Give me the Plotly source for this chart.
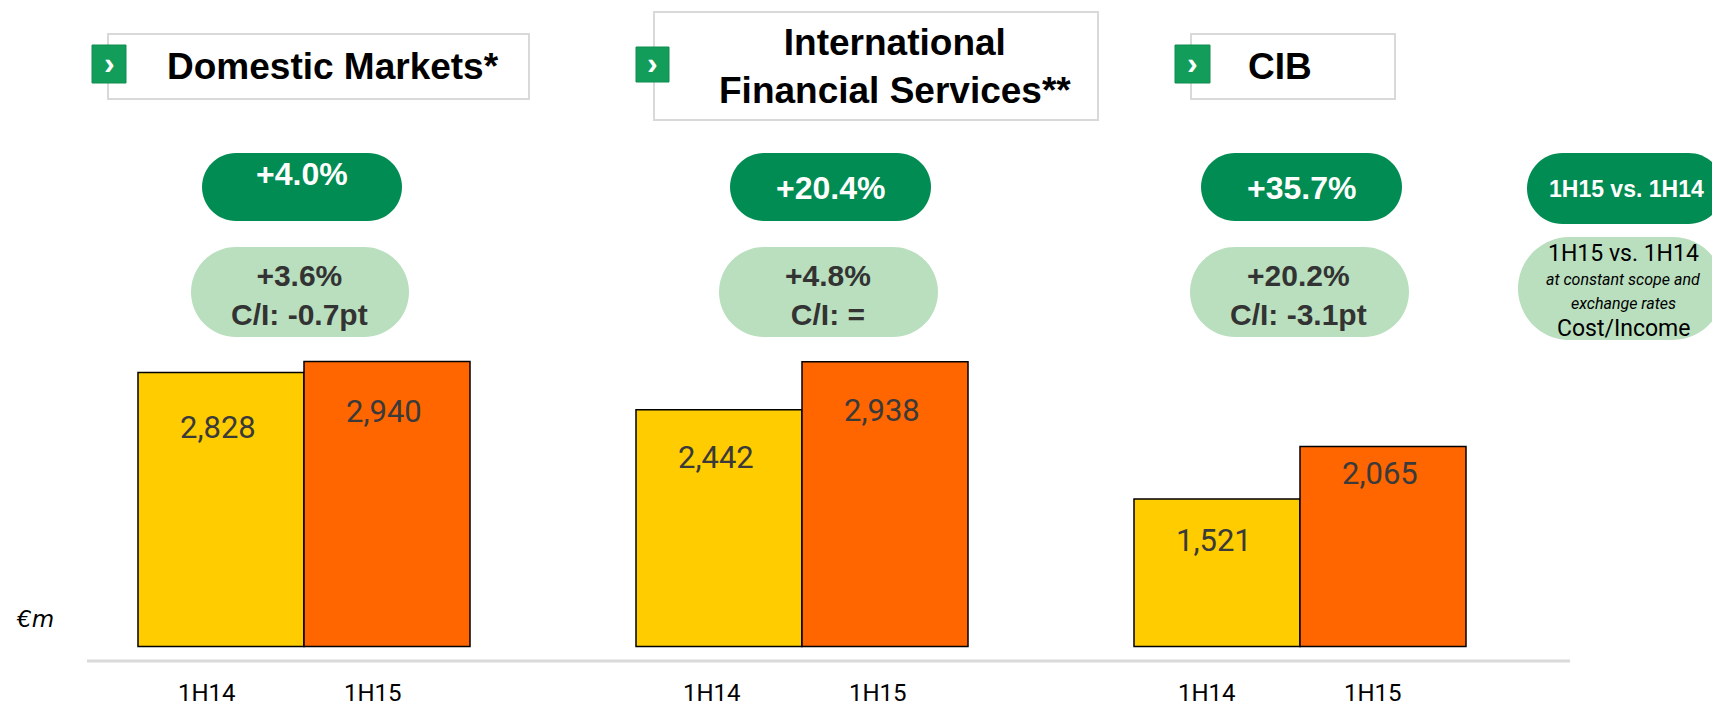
import plotly.graph_objects as go

# revenues by operating division, in EUR m
segments = ["Domestic Markets*", "International<br>Financial Services**", "CIB"]
periods = ["1H14", "1H15"]
rev_1h14 = [2828, 2442, 1521]
rev_1h15 = [2940, 2938, 2065]
growth = ["+4.0%", "+20.4%", "+35.7%"]
growth_const = ["+3.6%", "+4.8%", "+20.2%"]
cost_income = ["C/I: -0.7pt", "C/I: =", "C/I: -3.1pt"]

# the page body has an 8px margin, so the figure is a bit smaller than the window
OFF = 8
W, H = 1720 - OFF, 707 - OFF
YELLOW = "#FFCC00"
ORANGE = "#FF6600"
DARK_GREEN = "#008C52"
LIGHT_GREEN = "#B9DFBE"
NARROW = "Roboto, sans-serif"
BOLD = "Liberation Sans, Arial, sans-serif"


def px(x):
    return (x - OFF) / W


def py(y):
    return 1 - (y - OFF) / H


def pill(x0, y0, x1, y1, color):
    # stadium shape built from cubic curves (paper coords)
    r = (y1 - y0) / 2
    cy = (y0 + y1) / 2
    k = 0.5523 * r
    pts = [
        ("M", [(x0 + r, y0)]),
        ("L", [(x1 - r, y0)]),
        ("C", [(x1 - r + k, y0), (x1, cy - k), (x1, cy)]),
        ("C", [(x1, cy + k), (x1 - r + k, y1), (x1 - r, y1)]),
        ("L", [(x0 + r, y1)]),
        ("C", [(x0 + r - k, y1), (x0, cy + k), (x0, cy)]),
        ("C", [(x0, cy - k), (x0 + r - k, y0), (x0 + r, y0)]),
    ]
    path = ""
    for cmd, pp in pts:
        path += cmd + " " + " ".join(f"{px(a):.5f},{py(b):.5f}" for a, b in pp) + " "
    path += "Z"
    return dict(type="path", xref="paper", yref="paper", path=path,
                fillcolor=color, line=dict(width=0), layer="below")


x_1h14 = [3 * i for i in range(len(segments))]
x_1h15 = [3 * i + 1 for i in range(len(segments))]

fig = go.Figure()
fig.add_trace(go.Bar(x=x_1h14, y=rev_1h14, width=1, marker=dict(color=YELLOW, line=dict(color="black", width=1.5)),
                     name=periods[0], hoverinfo="y"))
fig.add_trace(go.Bar(x=x_1h15, y=rev_1h15, width=1, marker=dict(color=ORANGE, line=dict(color="black", width=1.5)),
                     name=periods[1], hoverinfo="y"))

shapes = []
annotations = []

# header boxes
boxes = [(108, 34, 529, 99), (654, 12, 1098, 120), (1191, 34, 1395, 99)]
squares = [(92, 45, 126, 83), (636, 47, 669, 82), (1175, 45, 1210, 83)]
title_x = [333, 895, 1280]
for i, seg in enumerate(segments):
    bx0, by0, bx1, by1 = boxes[i]
    shapes.append(dict(type="rect", xref="paper", yref="paper", x0=px(bx0), x1=px(bx1), y0=py(by1), y1=py(by0),
                       line=dict(color="#D9D9D9", width=2), fillcolor="white"))
    sx0, sy0, sx1, sy1 = squares[i]
    shapes.append(dict(type="rect", xref="paper", yref="paper", x0=px(sx0), x1=px(sx1), y0=py(sy1), y1=py(sy0),
                       line=dict(color="#0E8C50", width=1), fillcolor="#129E5A"))
    annotations.append(dict(xref="paper", yref="paper", x=px((sx0 + sx1) / 2), y=py((sy0 + sy1) / 2 - 1),
                            text="<b>›</b>", showarrow=False, font=dict(family=BOLD, size=32, color="white"),
                            xanchor="center", yanchor="middle"))
    annotations.append(dict(xref="paper", yref="paper", x=px(title_x[i]), y=py((by0 + by1) / 2),
                            text=f"<b>{seg}</b>", showarrow=False, font=dict(family=BOLD, size=37, color="black"),
                            xanchor="center", yanchor="middle"))

# growth pills
dark_x = [(202, 402), (730, 931), (1201, 1402)]
light_x = [(191, 409), (719, 938), (1190, 1409)]
dark_shift = [14, 0, 0]
for i in range(len(segments)):
    shapes.append(pill(dark_x[i][0], 153, dark_x[i][1], 221, DARK_GREEN))
    shapes.append(pill(light_x[i][0], 247, light_x[i][1], 337, LIGHT_GREEN))
    annotations.append(dict(xref="paper", yref="paper", x=px(sum(dark_x[i]) / 2), y=py(188), yshift=dark_shift[i],
                            text=f"<b>{growth[i]}</b>", showarrow=False,
                            font=dict(family=BOLD, size=32, color="white"), xanchor="center", yanchor="middle"))
    annotations.append(dict(xref="paper", yref="paper", x=px(sum(light_x[i]) / 2 - 1), y=py(295),
                            text=f"<b>{growth_const[i]}<br>{cost_income[i]}</b>", showarrow=False,
                            font=dict(family=BOLD, size=30, color="#333333"), xanchor="center", yanchor="middle"))

# legend pills on the right
shapes.append(pill(1527, 153, 1724, 224, DARK_GREEN))
shapes.append(pill(1518, 237, 1724, 340, LIGHT_GREEN))
annotations.append(dict(xref="paper", yref="paper", x=px(1626), y=py(189), text="<b>1H15 vs. 1H14</b>",
                        showarrow=False, font=dict(family=BOLD, size=23, color="white"),
                        xanchor="center", yanchor="middle"))
legend_lines = [("1H15 vs. 1H14", 253, 23, False), ("at constant scope and", 280, 16, True),
                ("exchange rates", 303, 16, True), ("Cost/Income", 328, 23, False)]
for txt, yy, sz, it in legend_lines:
    annotations.append(dict(xref="paper", yref="paper", x=px(1623), y=py(yy),
                            text=f"<i>{txt}</i>" if it else txt, showarrow=False,
                            font=dict(family=NARROW, size=sz, color="black"), xanchor="center", yanchor="middle"))

# value labels inside bars
shift_1h14 = [-55, -48, -41]
shift_1h15 = [-50, -49, -27]
for i in range(len(segments)):
    annotations.append(dict(x=x_1h14[i], y=rev_1h14[i], yshift=shift_1h14[i], xshift=-3,
                            text=f"{rev_1h14[i]:,}", showarrow=False,
                            font=dict(family=NARROW, size=31, color="#3A3A3A"), xanchor="center", yanchor="middle"))
    annotations.append(dict(x=x_1h15[i], y=rev_1h15[i], yshift=shift_1h15[i], xshift=-3,
                            text=f"{rev_1h15[i]:,}", showarrow=False,
                            font=dict(family=NARROW, size=31, color="#3A3A3A"), xanchor="center", yanchor="middle"))

# period labels under the baseline
label_shift = [-14, -7, -10]
for i in range(len(segments)):
    for j, xx in enumerate([x_1h14[i], x_1h15[i]]):
        annotations.append(dict(x=xx, xshift=label_shift[i], yref="paper", y=py(693), text=periods[j],
                                showarrow=False, font=dict(family=NARROW, size=24, color="black"),
                                xanchor="center", yanchor="middle"))

# baseline and unit
shapes.append(dict(type="line", xref="paper", yref="paper", x0=px(87), x1=px(1570), y0=py(661), y1=py(661),
                   line=dict(color="#D9D9D9", width=3)))
annotations.append(dict(xref="paper", yref="paper", x=px(35), y=py(619), text="<i>€m</i>", showarrow=False,
                        font=dict(family="DejaVu Sans, sans-serif", size=23, color="black"),
                        xanchor="center", yanchor="middle"))

fig.update_layout(
    width=W, height=H,
    margin=dict(l=0, r=0, t=0, b=0),
    paper_bgcolor="white", plot_bgcolor="white",
    showlegend=False,
    barmode="overlay",
    xaxis=dict(range=[(OFF - 221) / 166, (1720 - 221) / 166], visible=False, fixedrange=True),
    yaxis=dict(range=[(646.5 - 707) / 0.0969, (646.5 - OFF) / 0.0969], visible=False, fixedrange=True),
    shapes=shapes,
    annotations=annotations,
)

fig.write_html("out.html")
